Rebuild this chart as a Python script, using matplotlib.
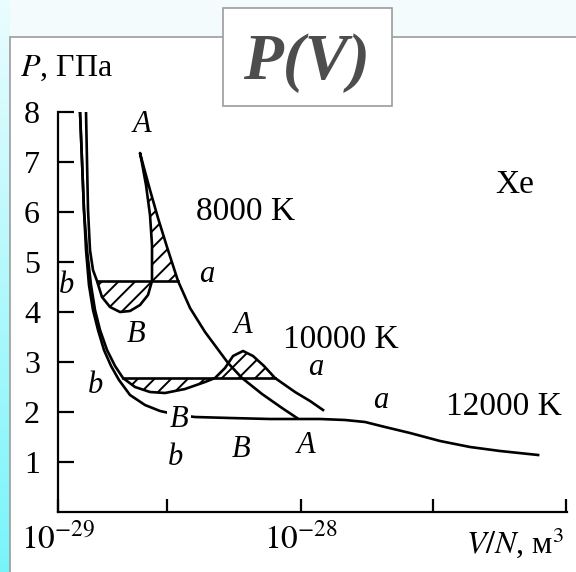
#!/usr/bin/env python3

"""Xe isotherms P(V) with Maxwell construction (8000, 10000, 12000 K)."""

import numpy as np
import matplotlib.pyplot as plt
from matplotlib.patches import Rectangle
from matplotlib.ticker import NullLocator

plt.rcParams["font.family"] = ["Liberation Serif", "DejaVu Serif"]
plt.rcParams["mathtext.fontset"] = "stix"
plt.rcParams["hatch.linewidth"] = 1.4
plt.rcParams["hatch.color"] = "black"

W, H = 576, 572
UNIT = 1e-29  # V/N values below are in units of 1e-29 m^3

# 8000 K isotherm: left branch, loop (B), cusp A, right branch a
v_8000 = [1.304, 1.316, 1.329, 1.354, 1.393, 1.447, 1.517, 1.637, 1.799, 1.978,
          2.175, 2.346, 2.437, 2.437, 2.391, 2.302, 2.216, 2.175, 2.259, 2.391,
          2.579, 2.809, 3.118, 3.494, 4.027, 5.008, 5.717, 6.911, 8.352, 9.627]
p_8000 = [8.00, 7.04, 6.04, 5.24, 4.84, 4.62, 4.30, 4.10, 4.00, 4.02,
          4.14, 4.34, 4.62, 5.34, 5.94, 6.54, 6.98, 7.18, 6.88, 6.44,
          5.88, 5.30, 4.62, 4.08, 3.60, 2.98, 2.68, 2.36, 2.08, 1.88]
maxwell_8000 = 4.62
idx_8000 = (5, 12, 22)  # b, crossing, a

# 10000 K isotherm
v_10000 = [1.232, 1.255, 1.279, 1.316, 1.367, 1.420, 1.489, 1.591, 1.717, 1.851,
           2.074, 2.391, 2.756, 3.332, 4.027, 4.427, 4.867, 5.251, 5.772, 6.345,
           7.042, 7.816, 9.447, 10.89, 12.32]
p_10000 = [8.00, 7.04, 6.04, 5.24, 4.54, 4.04, 3.64, 3.24, 2.92, 2.68,
           2.50, 2.40, 2.38, 2.46, 2.60, 2.68, 2.88, 3.12, 3.22, 3.12,
           2.92, 2.68, 2.40, 2.22, 2.04]
maxwell_10000 = 2.68
idx_10000 = (9, 15, 21)

# 12000 K isotherm
v_12000 = [1.232, 1.255, 1.279, 1.304, 1.341, 1.393, 1.461, 1.546, 1.653, 1.782,
           1.978, 2.280, 2.629, 3.118, 3.663, 5.104, 7.455, 11.97, 15.18, 18.34,
           22.17, 28.09, 37.33, 49.60, 65.92, 94.5]
p_12000 = [8.00, 7.04, 6.04, 5.24, 4.54, 4.04, 3.64, 3.24, 2.92, 2.64,
           2.34, 2.14, 2.02, 1.94, 1.90, 1.88, 1.86, 1.86, 1.84, 1.80,
           1.70, 1.58, 1.42, 1.30, 1.22, 1.14]

# point labels: text, V, P (baseline), italic
labels = [
    ("A", 2.216, 7.60, True), ("a", 4.105, 4.60, True), ("b", 1.079, 4.38, True),
    ("B", 2.094, 3.40, True), ("A", 5.772, 3.58, True), ("a", 11.53, 2.74, True),
    ("b", 1.420, 2.38, True), ("a", 21.34, 2.08, True), ("b", 3.030, 0.94, True),
    ("B", 5.664, 1.10, True), ("A", 10.48, 1.18, True),
    ("8000 K", 5.883, 5.84, False), ("10000 K", 14.61, 3.28, False),
    ("12000 K", 68.45, 1.94, False), ("Xe", 75.98, 6.38, False),
]
gap_label = ("B", 3.147, 1.70)

x_ticks = [1.0, 2.8, 10.0, 35.0, 123.0]
x_ticklabels = ["$10^{-29}$", "", "$10^{-28}$", "", ""]
y_ticks = [1, 2, 3, 4, 5, 6, 7, 8]


def v(vals):
    return np.asarray(vals) * UNIT


fig = plt.figure(figsize=(W / 100, H / 100), dpi=100)

# background: faint tint, cyan strip on the left, white framed panel
bg = fig.add_axes([0, 0, 1, 1], zorder=-10)
img = np.ones((H, W, 3)) * np.array([0.955, 0.985, 0.992])
t = np.linspace(0, 1, H)[:, None]
top_c = np.array([0.92, 0.99, 1.0])
bot_c = np.array([0.47, 0.96, 0.98])
img[:, :10, :] = ((1 - t) * top_c + t * bot_c)[:, None, :]
bg.imshow(img, extent=(0, W, H, 0), aspect="auto")
bg.add_patch(Rectangle((10, 37), W, H, facecolor="white", edgecolor="#9c9c9c", lw=1.2))
bg.add_patch(Rectangle((223, 8), 169, 98, facecolor="white", edgecolor="#9c9c9c", lw=1.2))
bg.text(306, 79, "P(V)", ha="center", va="baseline", fontsize=47,
        fontweight="bold", style="italic", color="#4d4d4d")
bg.text(20, 76, "$P$, ГПа", ha="left", va="baseline", fontsize=23)
bg.text(564, 553, "$V/N$, м$^3$", ha="right", va="baseline", fontsize=23)
bg.set_xlim(0, W)
bg.set_ylim(H, 0)
bg.axis("off")

ax = fig.add_axes([58 / W, 1 - 512 / H, (567 - 58) / W, 400 / H])
ax.set_facecolor("none")
ax.set_xscale("log")
ax.set_xlim(1.0 * UNIT, 124.3 * UNIT)
ax.set_ylim(0, 8)

lw = 1.9
for vv, pp in ((v_8000, p_8000), (v_10000, p_10000), (v_12000, p_12000)):
    ax.plot(v(vv), pp, color="black", lw=lw, solid_joinstyle="round")

for vv, pp, pm, (ib, ic, ia) in ((v_8000, p_8000, maxwell_8000, idx_8000),
                                 (v_10000, p_10000, maxwell_10000, idx_10000)):
    ax.plot(v([vv[ib], vv[ia]]), [pm, pm], color="black", lw=lw)
    ax.fill(v(vv[ib:ic + 1]), pp[ib:ic + 1], fill=False, hatch="//", lw=0, edgecolor="black")
    ax.fill(v(vv[ic:ia + 1]), pp[ic:ia + 1], fill=False, hatch="//", lw=0, edgecolor="black")

for text, lv, lp, ital in labels:
    ax.text(lv * UNIT, lp, text, ha="center", va="baseline",
            fontsize=22 if ital else 24, style="italic" if ital else "normal")
ax.text(gap_label[1] * UNIT, gap_label[2], gap_label[0], ha="center", va="baseline",
        fontsize=22, style="italic", zorder=5,
        bbox={"facecolor": "white", "edgecolor": "none", "pad": 2})

ax.set_xticks(v(x_ticks))
ax.set_xticklabels(x_ticklabels)
ax.xaxis.set_minor_locator(NullLocator())
ax.set_yticks(y_ticks)
ax.tick_params(axis="y", direction="in", length=11.5, width=1.6, pad=13, labelsize=23)
ax.tick_params(axis="x", direction="in", length=9.5, width=1.6, pad=8, labelsize=24)
for side in ("top", "right"):
    ax.spines[side].set_visible(False)
for side in ("left", "bottom"):
    ax.spines[side].set_linewidth(1.6)

fig.savefig("out.png", dpi=100)
